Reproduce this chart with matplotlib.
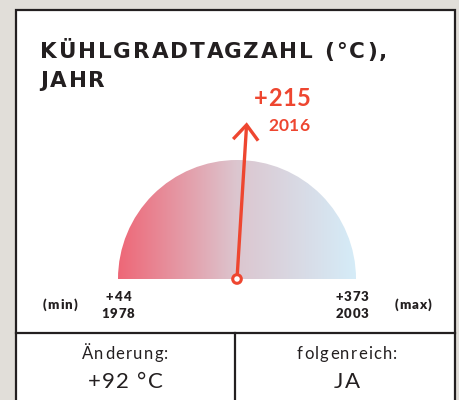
import numpy as np
import matplotlib
matplotlib.use("Agg")
import matplotlib.pyplot as plt
from matplotlib.patches import Wedge, Rectangle, Circle, FancyArrowPatch
from matplotlib.colors import LinearSegmentedColormap

# ---- data ----
title_lines = ["KÜHLGRADTAGZAHL (°C),", "JAHR"]
min_value = 44
min_year = 1978
max_value = 373
max_year = 2003
current_value = 215
current_year = 2016
change_label = "Änderung:"
change_value = "+92 °C"
signif_label = "folgenreich:"
signif_value = "JA"

RED = "#ee4630"
DARK = "#231f20"
BG = "#e1ded9"

fig = plt.figure(figsize=(4.59, 4.00), dpi=100)
fig.patch.set_facecolor(BG)
ax = fig.add_axes([0, 0, 1, 1])
ax.set_xlim(0, 459)
ax.set_ylim(400, 0)
ax.axis("off")
renderer = fig.canvas.get_renderer()


def text_width(s, **kw):
    t = ax.text(0, 0, s, **kw)
    w = t.get_window_extent(renderer).width
    t.remove()
    return w


def tracked(x, y, s, track, ha="left", va="baseline", **kw):
    widths = [text_width(s[:i], **kw) if i else 0.0 for i in range(len(s) + 1)]
    total = widths[-1] + track * (len(s) - 1)
    if ha == "center":
        x0 = x - total / 2
    elif ha == "right":
        x0 = x - total
    else:
        x0 = x
    for i, ch in enumerate(s):
        if ch == " ":
            continue
        ax.text(x0 + widths[i] + track * i, y, ch, ha="left", va=va, **kw)


# panel
ax.add_patch(Rectangle((16, 10), 439, 400, facecolor="white", edgecolor=DARK, lw=1.6, zorder=1))
ax.plot([16, 455], [333, 333], color=DARK, lw=1.6, zorder=2)
ax.plot([235, 235], [333, 400], color=DARK, lw=1.6, zorder=2)

tfont = dict(family=["DejaVu Sans"], fontweight="bold", color=DARK, fontsize=15.5)
title_w = text_width(title_lines[0], **tfont)
track_t = max(0.0, (347 - title_w) / (len(title_lines[0]) - 1))
tracked(40, 58, title_lines[0], track_t, **tfont)
tracked(40, 87, title_lines[1], track_t, **tfont)

# gauge
cx, cy, r = 237, 279, 119
cmap = LinearSegmentedColormap.from_list("g", ["#ee6777", "#dcc6cf", "#d5ecf8"])
grad = np.linspace(0, 1, 256).reshape(1, -1)
im = ax.imshow(grad, cmap=cmap, extent=(cx - r, cx + r, cy, cy - r), aspect="auto", zorder=3)
wedge = Wedge((cx, cy), r, 180, 360, transform=ax.transData, facecolor="none", edgecolor="none")
ax.add_patch(wedge)
im.set_clip_path(wedge)

frac = (current_value - min_value) / (max_value - min_value)
ang = np.pi * (1 - frac)
L = 157
tip = (cx + L * np.cos(ang), cy - L * np.sin(ang))
arr = FancyArrowPatch((cx, cy), tip, arrowstyle="->,head_length=0.9,head_width=0.75",
                      mutation_scale=12, color=RED, lw=2.4, zorder=5,
                      shrinkA=0, shrinkB=0, capstyle="butt", joinstyle="miter")
ax.add_patch(arr)
ax.add_patch(Circle((cx, cy), 4.3, facecolor="white", edgecolor=RED, lw=2.2, zorder=6))

vfont = dict(family=["Lato", "DejaVu Sans"], color=RED, fontweight="bold")
tracked(282, 106, f"+{current_value}", 0.5, ha="center", fontsize=17, **vfont)
tracked(289, 131, f"{current_year}", 0.5, ha="center", fontsize=12.5, **vfont)

lfont = dict(family=["Lato", "DejaVu Sans"], color=DARK, fontweight="heavy", fontsize=9.5)
tracked(60, 309, "(min)", 1.0, ha="center", **lfont)
tracked(413, 309, "(max)", 1.0, ha="center", **lfont)
tracked(cx - r, 301, f"+{min_value}", 0.8, ha="center", **lfont)
tracked(cx - r, 318, f"{min_year}", 0.8, ha="center", **lfont)
tracked(cx + r - 4, 301, f"+{max_value}", 0.8, ha="center", **lfont)
tracked(cx + r - 4, 318, f"{max_year}", 0.8, ha="center", **lfont)

bfont = dict(family=["Lato", "DejaVu Sans"], color=DARK, fontweight="normal")
tracked(125, 359, change_label, 1.3, ha="center", fontsize=12, **bfont)
tracked(125, 388, change_value, 1.3, ha="center", fontsize=16, **bfont)
tracked(347, 359, signif_label, 1.3, ha="center", fontsize=12, **bfont)
tracked(347, 388, signif_value, 1.3, ha="center", fontsize=16, **bfont)

fig.savefig("out.png", dpi=100, facecolor=BG)
